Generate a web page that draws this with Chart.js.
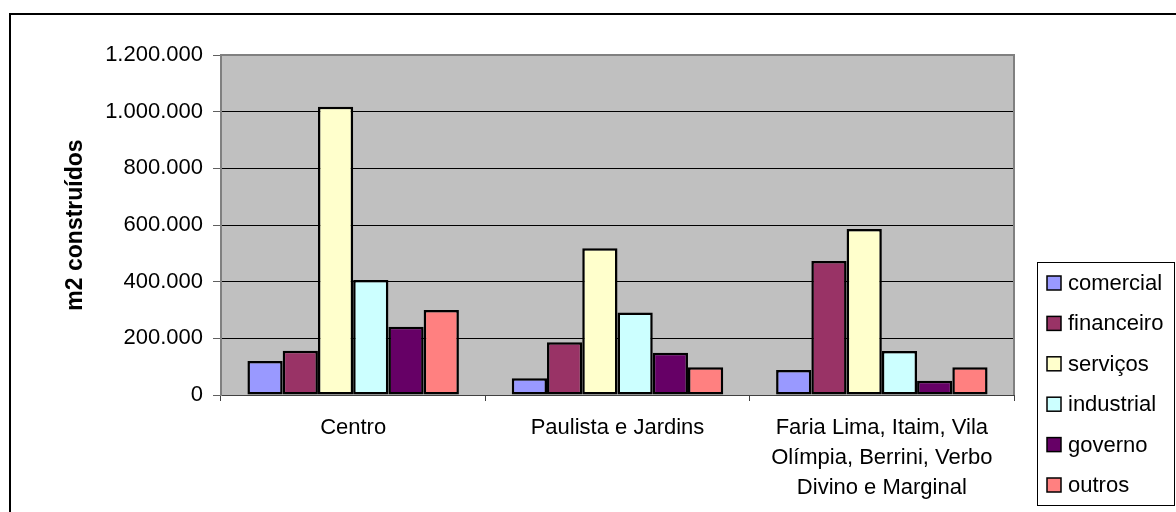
<!DOCTYPE html>
<html>
<head>
<meta charset="utf-8">
<script src="https://cdn.jsdelivr.net/npm/chart.js@4/dist/chart.umd.min.js"></script>
<style>
    html, body { margin: 0; padding: 0; background: #ffffff; }
    #wrap { width: 1176px; height: 512px; }
</style>
</head>
<body>
<div id="wrap"><canvas id="areaChart" width="1176" height="512"></canvas></div>
<script>
const regions = [
    'Centro',
    'Paulista e Jardins',
    ['Faria Lima, Itaim, Vila', 'Olímpia, Berrini, Verbo', 'Divino e Marginal']
];
const sectors = ['comercial', 'financeiro', 'serviços', 'industrial', 'governo', 'outros'];
const sectorColors = ['#9999FF', '#993366', '#FFFFCC', '#CCFFFF', '#660066', '#FF8080'];

// m2 construídos per sector, one value per region
const comercial = [120000, 59000, 88000];
const financeiro = [156000, 186000, 473000];
const servicos = [1017000, 518000, 586000];
const industrial = [406000, 291000, 155000];
const governo = [241000, 149000, 50000];
const outros = [300000, 98000, 98000];

const yMax = 1200000;
const yStep = 200000;
const yTitle = 'm2 construídos';

const fontFamily = "'Liberation Sans', Arial, sans-serif";

function formatThousands(value) {
    return String(value).replace(/\B(?=(\d{3})+(?!\d))/g, '.');
}

// grey plot area + outer frame of the chart
const frameAndBackground = {
    id: 'frameAndBackground',
    beforeDraw(chart) {
        const ctx = chart.ctx;
        const area = chart.chartArea;
        ctx.save();
        ctx.strokeStyle = '#000000';
        ctx.lineWidth = 2;
        ctx.strokeRect(10, 14, 2000, 2000);
        ctx.fillStyle = '#C0C0C0';
        ctx.fillRect(area.left, area.top, area.right - area.left, area.bottom - area.top);
        ctx.restore();
    },
    beforeDatasetsDraw(chart) {
        const ctx = chart.ctx;
        const area = chart.chartArea;
        ctx.save();
        ctx.strokeStyle = '#808080';
        ctx.lineWidth = 2;
        ctx.beginPath();
        ctx.moveTo(area.left, area.top);
        ctx.lineTo(area.right, area.top);
        ctx.lineTo(area.right, area.bottom);
        ctx.stroke();
        ctx.restore();
    }
};

// legend box on the right, like the Excel one
const boxLegend = {
    id: 'boxLegend',
    afterDraw(chart) {
        const ctx = chart.ctx;
        const left = 1037;
        const top = 262;
        const right = 1174;
        const bottom = 505;
        const rowGap = 40.4;
        ctx.save();
        ctx.strokeStyle = '#000000';
        ctx.lineWidth = 1;
        ctx.strokeRect(left + 0.5, top + 0.5, right - left, bottom - top);
        ctx.font = '22px ' + fontFamily;
        ctx.textBaseline = 'middle';
        chart.data.datasets.forEach(function(ds, i) {
            const y = 283 + i * rowGap;
            ctx.fillStyle = ds.backgroundColor;
            ctx.fillRect(1047, y - 7, 14, 14);
            ctx.lineWidth = 1.5;
            ctx.strokeStyle = '#000000';
            ctx.strokeRect(1047, y - 7, 14, 14);
            ctx.fillStyle = '#000000';
            ctx.fillText(ds.label, 1068, y + 1);
        });
        ctx.restore();
    }
};

function makeDataset(label, values, color) {
    return {
        label: label,
        data: values,
        backgroundColor: color,
        borderColor: '#000000',
        borderWidth: 2.5,
        borderSkipped: false,
        categoryPercentage: 0.8,
        barPercentage: 1.0
    };
}

const seriesValues = [comercial, financeiro, servicos, industrial, governo, outros];
const datasets = sectors.map(function(name, i) {
    return makeDataset(name, seriesValues[i], sectorColors[i]);
});

const ctx = document.getElementById('areaChart').getContext('2d');
new Chart(ctx, {
    type: 'bar',
    data: {
        labels: regions,
        datasets: datasets
    },
    options: {
        responsive: false,
        animation: false,
        layout: {
            padding: { left: 0, top: 55, right: 162, bottom: 0 }
        },
        plugins: {
            legend: { display: false },
            tooltip: { enabled: false }
        },
        scales: {
            x: {
                offset: true,
                afterFit: function(scale) { scale.height = 117; },
                grid: {
                    offset: true,
                    drawOnChartArea: false,
                    tickLength: 6,
                    tickColor: '#404040'
                },
                border: { color: '#404040', width: 1 },
                ticks: {
                    color: '#000000',
                    padding: 12,
                    maxRotation: 0,
                    font: { family: fontFamily, size: 22, lineHeight: 1.36 }
                }
            },
            y: {
                min: 0,
                max: yMax,
                afterFit: function(scale) { scale.width = 221; },
                grid: {
                    color: '#000000',
                    lineWidth: 1,
                    tickLength: 8,
                    tickColor: '#606060'
                },
                border: { color: '#808080', width: 2 },
                ticks: {
                    stepSize: yStep,
                    color: '#000000',
                    padding: 10,
                    font: { family: fontFamily, size: 22 },
                    callback: function(value) { return formatThousands(value); }
                },
                title: {
                    display: true,
                    text: yTitle,
                    color: '#000000',
                    padding: { top: 62, bottom: 0 },
                    font: { family: fontFamily, size: 23, weight: 'bold' }
                }
            }
        }
    },
    plugins: [frameAndBackground, boxLegend]
});
</script>
</body>
</html>
